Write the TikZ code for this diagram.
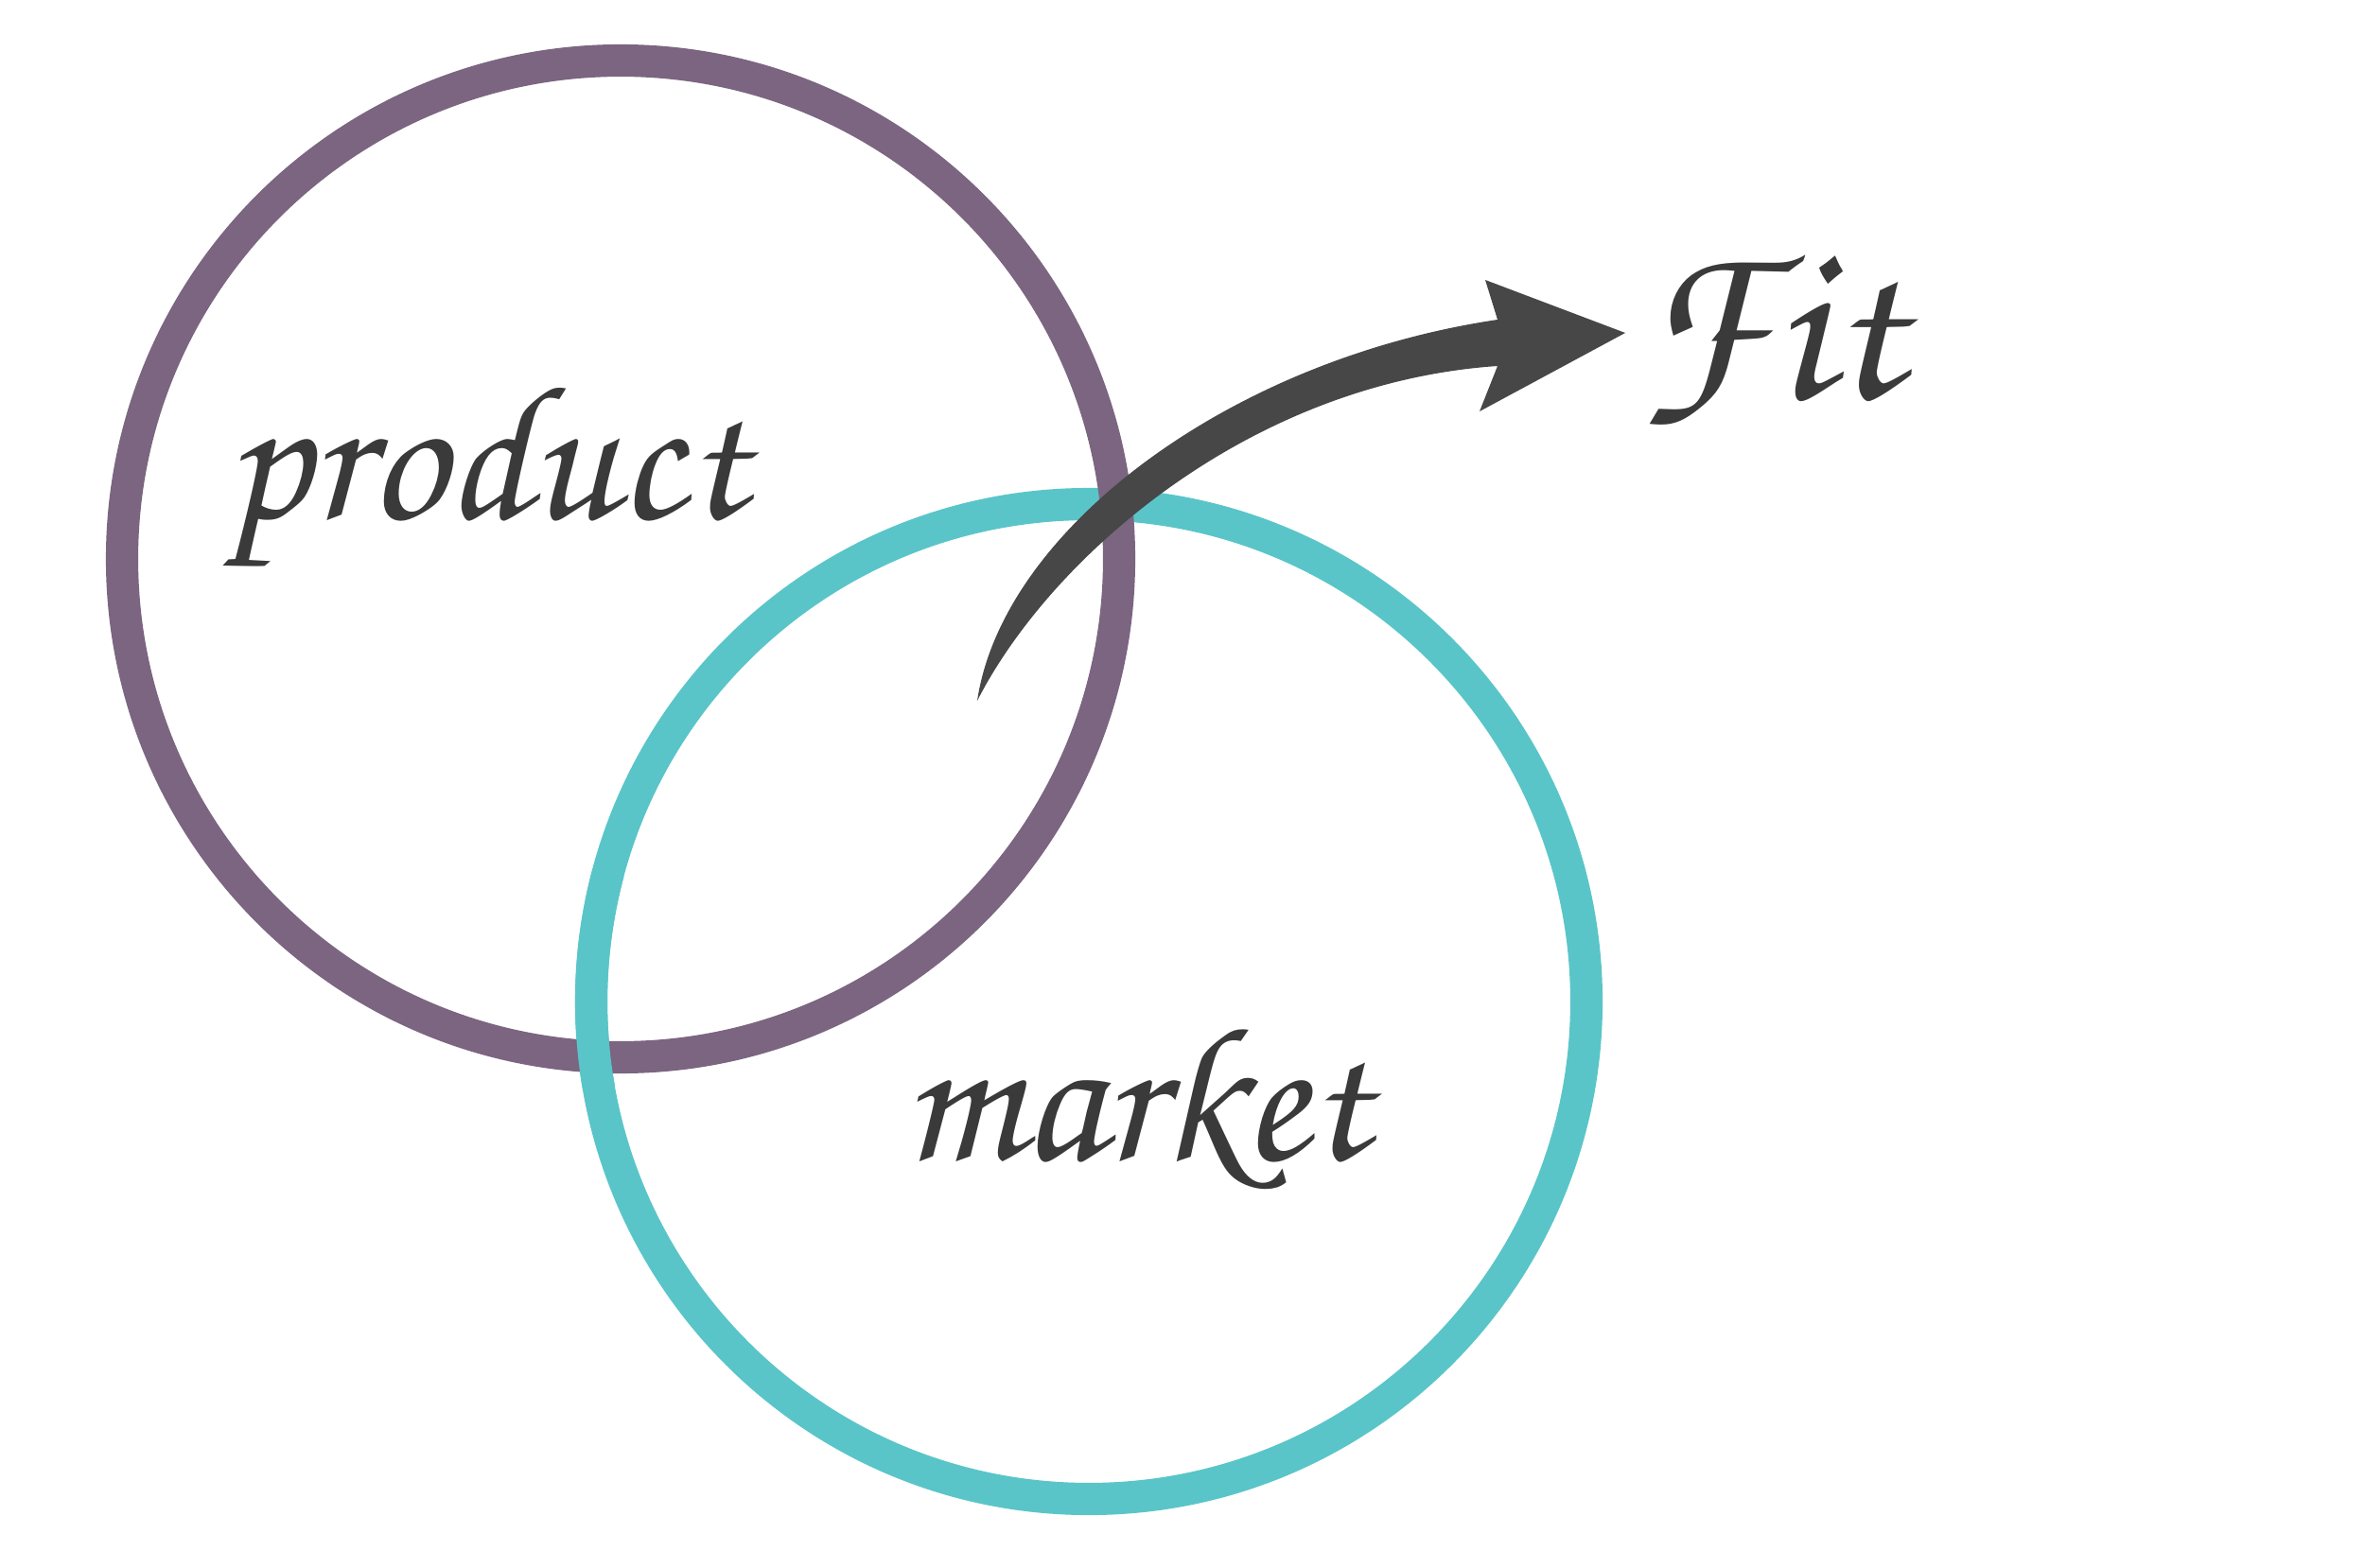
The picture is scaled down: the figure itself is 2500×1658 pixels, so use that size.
\documentclass[tikz,border=0pt]{standalone}
\usepackage{xcolor}
\usepackage{tikz}
\usetikzlibrary{positioning,calc}
\definecolor{fitplum}{HTML}{7B6580}
\definecolor{fitteal}{HTML}{5AC5C8}
\definecolor{fitarrow}{HTML}{474747}
\definecolor{fitink}{HTML}{3A3A3A}
\newcommand{\FitScript}{\usefont{T1}{pzc}{m}{it}\fontsize{58}{64}\selectfont}

\begin{document}
\begin{tikzpicture}[x=0.01cm,y=-0.01cm,
    ring/.style={line width=9.7pt},
    word/.style={font=\FitScript,text=fitink,inner sep=0pt},
    bigarr/.style={fill=fitarrow,draw=none},
  ]
    \useasboundingbox (0,0) rectangle (2500,1658);
    \fill[white] (0,0) rectangle (2500,1658);

    % the two rings, linked
    \coordinate (prodc) at (656,591);
    \coordinate (markc) at (1151,1059);
    \draw[ring,fitteal] (markc) circle[radius=526];
    \draw[ring,fitplum] (prodc) circle[radius=527];
    \draw[ring,fitteal] (markc) ++(170:526) arc[start angle=170,end angle=195,radius=526];

    \node[word] (product) at (513,507) {product};
    \node[word] (market)  at (1200,1172) {market};
    \node[word,scale=1.2] (fit) at (1870,362) {Fit};

    % swoosh arrow
    \coordinate (tail) at (1033,741);
    \coordinate (tip) at (1718,352);
    \fill[bigarr] (tail) .. controls (1060,560) and (1300,380) .. (1583,338)
      -- (1570,296) -- (tip) -- (1564,435) -- (1583,387)
      .. controls (1320,405) and (1110,590) .. cycle;
  \end{tikzpicture}
\end{document}
